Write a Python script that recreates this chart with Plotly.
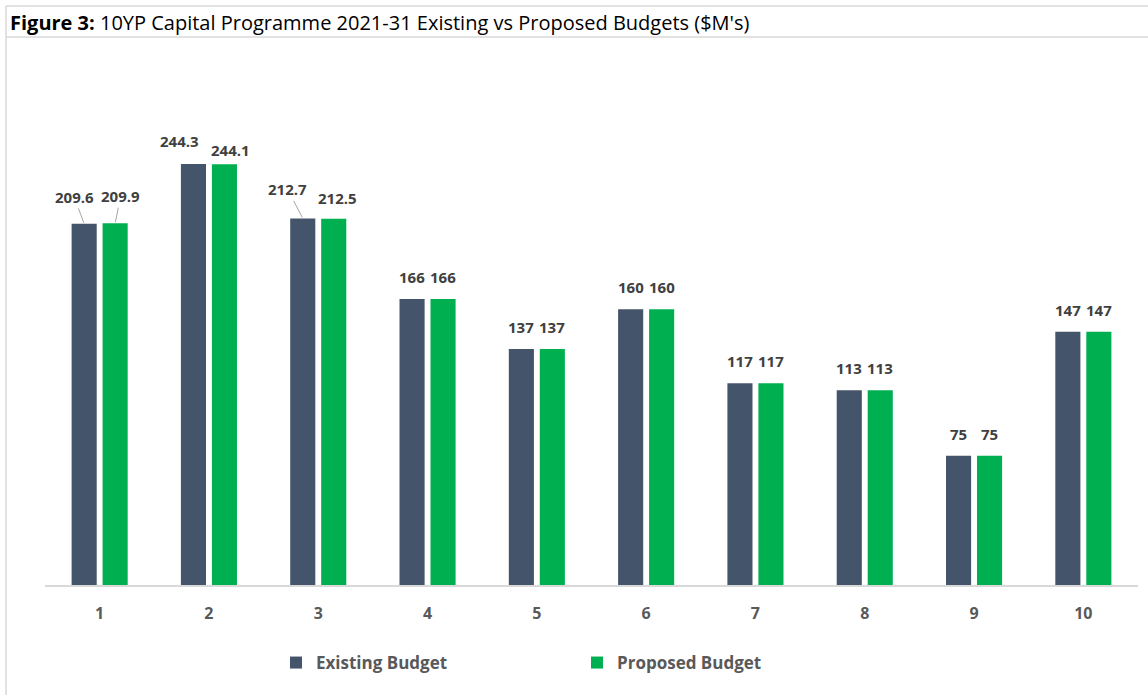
import plotly.graph_objects as go

# ---- data ----
categories = ["1", "2", "3", "4", "5", "6", "7", "8", "9", "10"]
existing_budget = [209.6, 244.3, 212.7, 166, 137, 160, 117, 113, 75, 147]
proposed_budget = [209.9, 244.1, 212.5, 166, 137, 160, 117, 113, 75, 147]
series_names = ["Existing Budget", "Proposed Budget"]
title_bold = "Figure 3:"
title_rest = " 10YP Capital Programme 2021-31 Existing vs Proposed Budgets ($M's)"

# ---- style / layout ----
W, H = 1148, 695
ML, MR, MT, MB = 45, 10, 68, 110
PW, PH = W - ML - MR, H - MT - MB
BARGAP, GROUPGAP = 0.433, 0.19
C_EXIST, C_PROP = "#44546A", "#00B050"
LABEL_COLOR = "#404040"
AXIS_TEXT = "#595959"
FONT = "Open Sans"

def px2x(px):
    return (px - ML) / PW

def px2y(py):
    return (H - MB - py) / PH

# label offsets (px) relative to bar top centre: (dx, dy, leader line)
label_offsets = {
    (0, 0): (-10, -27, True), (1, 0): (5.5, -27, True),
    (0, 1): (-13.5, -23, False), (1, 1): (6.5, -14, False),
    (0, 2): (-15, -29, True), (1, 2): (4, -21, False),
}
DEFAULT_OFFSET = (0, -22, False)

fig = go.Figure()
fig.add_trace(go.Bar(x=categories, y=existing_budget, name=series_names[0],
                     marker=dict(color=C_EXIST, line=dict(width=0))))
fig.add_trace(go.Bar(x=categories, y=proposed_budget, name=series_names[1],
                     marker=dict(color=C_PROP, line=dict(width=0))))

cat_w = PW / len(categories)
slot = cat_w * (1 - BARGAP) / 2
annotations = []
for s, vals in enumerate([existing_budget, proposed_budget]):
    off = -slot / 2 if s == 0 else slot / 2
    for i, v in enumerate(vals):
        dx, dy, leader = label_offsets.get((s, i), DEFAULT_OFFSET)
        txt = f"<b>{v:g}</b>"
        if leader:
            annotations.append(dict(
                x=i, y=v, xref="x", yref="y", text=txt,
                showarrow=True, arrowhead=0, arrowwidth=1, arrowcolor="#a6a6a6",
                ax=dx, ay=dy, xshift=off, standoff=1,
                font=dict(family=FONT, size=15, color=LABEL_COLOR)))
        else:
            annotations.append(dict(
                x=i, y=v, xref="x", yref="y", text=txt,
                showarrow=False, xshift=off + dx, yshift=-dy,
                xanchor="center", yanchor="middle",
                font=dict(family=FONT, size=15, color=LABEL_COLOR)))

# title
annotations.append(dict(
    x=px2x(8), y=px2y(23), xref="paper", yref="paper",
    text=f"<b>{title_bold}</b>{title_rest}", showarrow=False,
    xanchor="left", yanchor="middle",
    font=dict(family=FONT, size=20, color="#000000")))

border = "#d9d9d9"
shapes = [
    dict(type="line", xref="paper", yref="paper", x0=px2x(6), x1=px2x(W), y0=px2y(6), y1=px2y(6),
         line=dict(color=border, width=1.5), layer="below"),
    dict(type="line", xref="paper", yref="paper", x0=px2x(6), x1=px2x(W), y0=px2y(37), y1=px2y(37),
         line=dict(color=border, width=1.5), layer="below"),
    dict(type="line", xref="paper", yref="paper", x0=px2x(6), x1=px2x(6), y0=px2y(6), y1=px2y(H),
         line=dict(color=border, width=1.5), layer="below"),
]

fig.update_layout(
    width=W, height=H,
    margin=dict(l=ML, r=MR, t=MT, b=MB, autoexpand=False),
    paper_bgcolor="white", plot_bgcolor="white",
    barmode="group", bargap=BARGAP, bargroupgap=GROUPGAP,
    showlegend=True,
    legend=dict(orientation="h", x=px2x(276), y=px2y(663), xanchor="left", yanchor="middle",
                entrywidth=256, entrywidthmode="pixels",
                font=dict(family=FONT, size=17, color=AXIS_TEXT, weight="bold"),
                bgcolor="rgba(0,0,0,0)"),
    annotations=annotations, shapes=shapes,
    font=dict(family=FONT),
)
fig.update_xaxes(type="category", showline=True, linecolor=border, linewidth=1.5, showgrid=False,
                 ticks="", ticklabelstandoff=13,
                 tickfont=dict(family=FONT, size=16, color=AXIS_TEXT, weight="bold"))
fig.update_yaxes(range=[0, 300], visible=False, showgrid=False)

fig.write_html("out.html")
